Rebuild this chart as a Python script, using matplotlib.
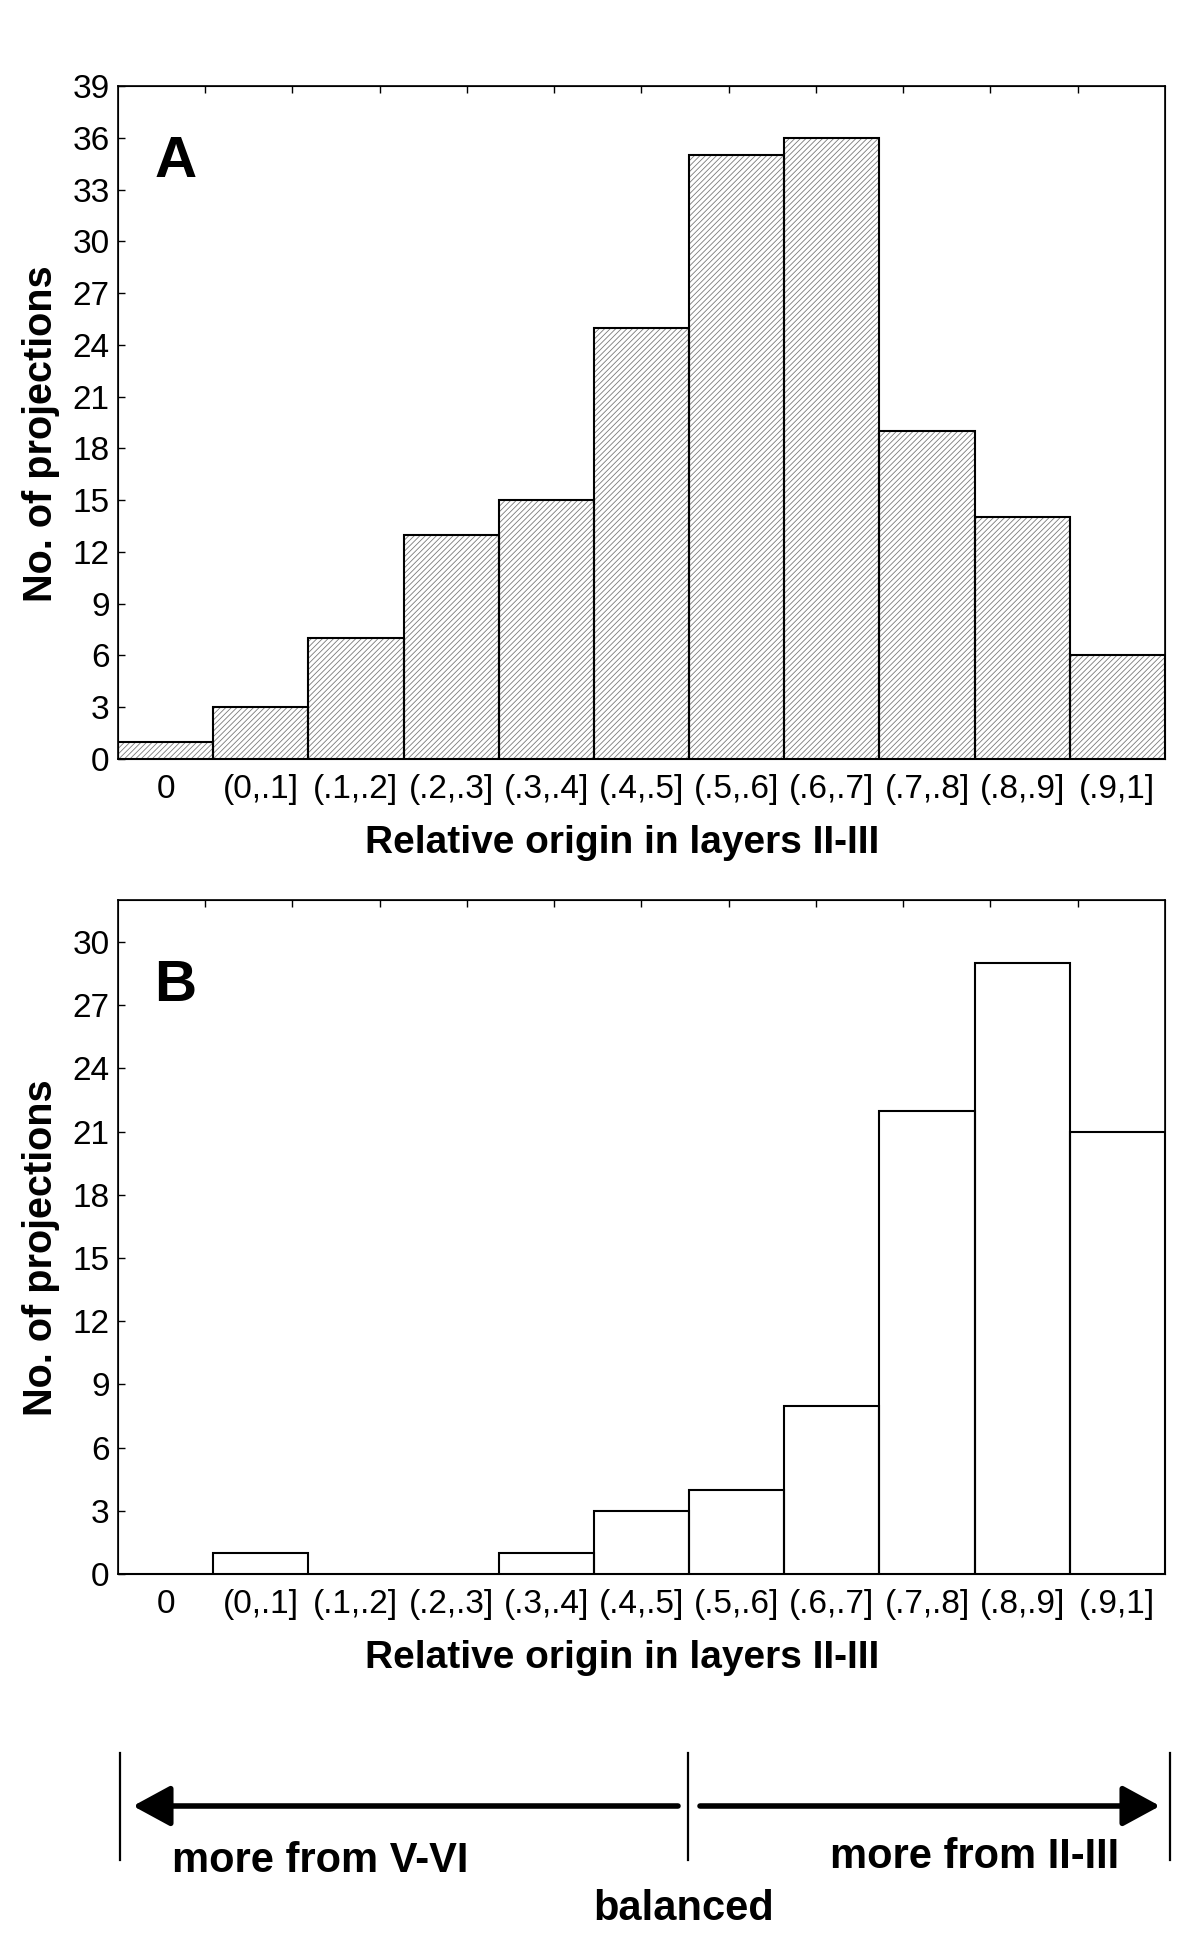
import numpy as np
import matplotlib
matplotlib.use("Agg")
import matplotlib.pyplot as plt

plt.rcParams['font.family'] = ['Liberation Sans', 'DejaVu Sans']
plt.rcParams['hatch.linewidth'] = 0.6

bins = ["0", "(0,.1]", "(.1,.2]", "(.2,.3]", "(.3,.4]", "(.4,.5]",
        "(.5,.6]", "(.6,.7]", "(.7,.8]", "(.8,.9]", "(.9,1]"]
counts_a = [1, 3, 7, 13, 15, 25, 35, 36, 19, 14, 6]
counts_b = [0, 1, 0, 0, 1, 3, 4, 8, 22, 29, 21]
yticks_a = np.arange(0, 40, 3)
yticks_b = np.arange(0, 31, 3)
ymax_a, ymax_b = 39, 32

fig = plt.figure(figsize=(12, 19.5), dpi=100)


def panel(rect, counts, yticks, ymax, letter, hatched):
    ax = fig.add_axes(rect)
    x = np.arange(len(bins))
    if hatched:
        ax.bar(x, counts, width=1.0, color='white', edgecolor='#7a7a7a',
               hatch='//////', linewidth=0, zorder=2)
    ax.bar(x, counts, width=1.0, fill=False, edgecolor='black',
           linewidth=1.5, zorder=3)
    ax.set_xlim(-0.5, len(bins) - 0.5)
    ax.set_ylim(0, ymax)
    ax.set_yticks(yticks)
    ax.set_xticks(x)
    ax.set_xticklabels(bins)
    ax.tick_params(axis='y', direction='in', length=5, width=1, labelsize=24, pad=6)
    ax.tick_params(axis='x', length=0, labelsize=24, pad=11)
    for s in ax.spines.values():
        s.set_linewidth(1.2)
    ax.set_xlabel("Relative origin in layers II-III", fontsize=28,
                  fontweight='bold', labelpad=14)
    ax.xaxis.label.set_x(0.482)
    ax.set_ylabel("No. of projections", fontsize=28.5, fontweight='bold')
    ax.yaxis.set_label_coords(-0.055, 0.484)
    top = ax.twiny()
    top.set_xlim(0, 12)
    top.set_xticks(np.arange(1, 12))
    top.tick_params(axis='x', direction='in', length=5, width=1, labeltop=False)
    ax.text(0.035, 0.865 if letter == 'A' else 0.85, letter, transform=ax.transAxes,
            fontsize=42, fontweight='bold', ha='left', va='baseline')
    return ax


panel([0.0983, 0.6108, 0.8725, 0.345], counts_a, yticks_a, ymax_a, 'A', True)
panel([0.0983, 0.1928, 0.8725, 0.3457], counts_b, yticks_b, ymax_b, 'B', False)

# direction annotation along the bottom
ov = fig.add_axes([0, 0, 1, 1])
ov.set_xlim(0, 1200)
ov.set_ylim(1950, 0)
ov.axis('off')
for xv in [120, 688, 1170]:
    ov.plot([xv, xv], [1753, 1860], color='black', lw=1.6)
arrow = dict(arrowstyle='-|>,head_length=2.3,head_width=1.25', color='black',
             lw=4, shrinkA=0, shrinkB=0)
ov.annotate('', xy=(133, 1806), xytext=(678, 1806), arrowprops=arrow)
ov.annotate('', xy=(1160, 1806), xytext=(700, 1806), arrowprops=arrow)
ov.text(320, 1861, "more from V-VI", fontsize=30, fontweight='bold',
        ha='center', va='center')
ov.text(975, 1857, "more from II-III", fontsize=30, fontweight='bold',
        ha='center', va='center')
ov.text(684, 1909, "balanced", fontsize=30, fontweight='bold',
        ha='center', va='center')

fig.savefig("out.png", dpi=100)
